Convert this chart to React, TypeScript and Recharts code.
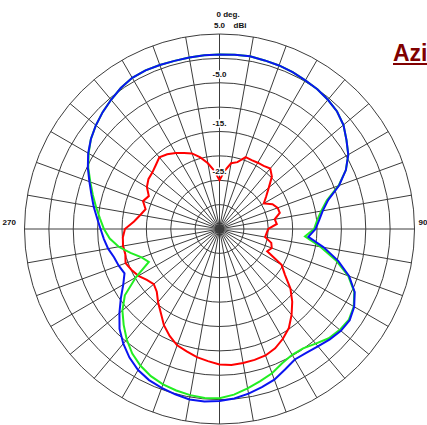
import React from 'react';
import { RadarChart, Radar, PolarGrid, PolarAngleAxis, PolarRadiusAxis } from 'recharts';

// Azimuth angle (deg, clockwise from top)
const angles = [
  0, 5, 10, 15, 20, 25, 30, 35, 40, 45, 50, 55, 60, 65, 70, 75, 80, 85,
  90, 95, 100, 105, 110, 115, 120, 125, 130, 135, 140, 145, 150, 155, 160, 165, 170, 175,
  180, 185, 190, 195, 200, 205, 210, 215, 220, 225, 230, 235, 240, 245, 250, 255, 260, 265,
  270, 275, 280, 285, 290, 295, 300, 305, 310, 315, 320, 325, 330, 335, 340, 345, 350, 355,
];

// Gain in dBi
const blueGain = [
  0.8, 0.9, 1.0, 0.8, 0.7, 0.5, 0.2, 0.0, -0.4, -0.9, -1.8, -3.2, -4.5, -6.4, -8.9, -11.9, -13.5, -14.5,
  -15.3, -16.7, -13.3, -9.8, -6.7, -4.4, -3.1, -2.4, -2.5, -3.0, -3.6, -4.0, -4.1, -3.2, -2.1, -1.4, -0.7, -0.1,
  0.3, 0.5, 0.5, 0.1, -0.3, -0.8, -1.6, -2.8, -4.3, -6.0, -8.2, -10.3, -12.2, -13.5, -13.0, -12.6, -11.8, -11.2,
  -10.6, -9.8, -8.8, -7.8, -6.6, -5.2, -3.9, -2.8, -1.9, -1.1, -0.4, 0.3, 0.8, 0.9, 0.8, 0.7, 0.7, 0.8,
];

const greenGain = [
  0.8, 0.9, 1.0, 0.8, 0.7, 0.5, 0.2, 0.0, -0.4, -0.9, -1.8, -3.2, -4.5, -6.4, -9.0, -12.2, -13.8, -14.9,
  -15.6, -17.4, -14.0, -10.3, -6.9, -4.5, -3.2, -2.6, -2.8, -3.3, -4.3, -5.1, -5.2, -4.6, -3.5, -2.7, -1.8, -0.9,
  -0.3, -0.2, -0.4, -0.7, -1.1, -1.7, -2.6, -3.8, -5.4, -7.2, -9.0, -11.3, -15.2, -19.0, -18.0, -16.1, -14.0, -12.4,
  -11.3, -10.4, -9.3, -8.1, -6.8, -5.3, -4.0, -2.8, -1.9, -1.1, -0.4, 0.3, 0.8, 0.9, 0.8, 0.7, 0.7, 0.8,
];

const redGain = [
  -25.0, -23.0, -21.3, -20.8, -19.3, -19.4, -19.3, -19.2, -18.8, -19.8, -21.8, -23.3, -24.5, -23.0, -22.3, -22.2, -23.5, -23.2,
  -25.0, -25.3, -25.5, -24.0, -23.6, -24.2, -20.3, -18.6, -16.0, -13.9, -12.0, -10.2, -9.0, -8.0, -7.4, -7.2, -7.1, -7.0,
  -7.2, -7.8, -8.3, -9.0, -9.6, -10.8, -12.2, -14.0, -15.4, -16.8, -17.4, -16.8, -15.8, -15.1, -14.5, -15.0, -14.9, -15.1,
  -15.6, -17.4, -18.5, -19.3, -18.3, -19.0, -17.8, -17.2, -17.0, -16.5, -15.8, -16.3, -17.0, -17.8, -18.5, -19.8, -21.3, -23.0,
];

const ringTicks = [-25, -15, -5, 5];
const ringTickText: Record<string, string> = { '5': '5.0', '-5': '-5.0', '-15': '-15.', '-25': '-25.' };
const cardinalText: Record<string, string> = { '0': '0 deg.', '90': '90', '180': '180', '270': '270' };

const data = angles.map((a, i) => ({ angle: a, blue: blueGain[i], green: greenGain[i], red: redGain[i] }));

const CX = 219.5;
const CY = 229;
const R = 195;
const ringRadii = [4, ...Array.from({ length: 8 }, (_, i) => ((i + 1) * R) / 8)];
const spokes = Array.from({ length: 36 }, (_, i) => i * 10);

const FONT = "'Liberation Sans', Arial, sans-serif";

const RadiusTick = (props: any) => {
  const { x, y, payload } = props;
  const key = String(payload.value);
  const label = ringTickText[key];
  if (!label) return null;
  return (
    <g>
      <text
        x={x}
        y={y - 6}
        textAnchor="middle"
        fontSize={8}
        fontWeight="bold"
        fontFamily={FONT}
        fill="#111"
        stroke="#fff"
        strokeWidth={3}
        style={{ paintOrder: 'stroke' }}
      >
        {label}
      </text>
      {key === '5' && (
        <text x={x + 14} y={y - 6} textAnchor="start" fontSize={8} fontWeight="bold" fontFamily={FONT} fill="#111">
          dBi
        </text>
      )}
    </g>
  );
};

const AngleTick = (props: any) => {
  const { payload } = props;
  const key = String(payload.value);
  const label = cardinalText[key];
  if (!label) return null;
  let x = CX;
  let y = CY;
  let anchor: 'start' | 'middle' | 'end' = 'middle';
  if (key === '0') {
    x = CX - 3;
    y = CY - R - 17;
    anchor = 'start';
  } else if (key === '90') {
    x = CX + R + 4;
    y = CY - 4;
    anchor = 'start';
  } else if (key === '180') {
    x = CX;
    y = CY + R + 7;
  } else if (key === '270') {
    x = CX - R - 22;
    y = CY - 4;
    anchor = 'start';
  }
  return (
    <text x={x} y={y} textAnchor={anchor} fontSize={8} fontWeight="bold" fontFamily={FONT} fill="#111">
      {label}
    </text>
  );
};

export default function App() {
  return (
    <div
      style={{
        position: 'absolute',
        left: 0,
        top: 0,
        width: 427,
        height: 425,
        overflow: 'hidden',
        background: '#fff',
      }}
    >
      <RadarChart
        width={427}
        height={425}
        cx={CX}
        cy={CY}
        innerRadius={0}
        outerRadius={R}
        startAngle={90}
        endAngle={-270}
        margin={{ top: 0, right: 0, bottom: 0, left: 0 }}
        data={data}
      >
        <PolarGrid
          gridType="circle"
          polarRadius={ringRadii}
          polarAngles={spokes}
          stroke="#3c3c3c"
          strokeWidth={1}
        />
        <PolarAngleAxis
          dataKey="angle"
          type="category"
          axisLine={false}
          tickLine={false}
          tick={<AngleTick />}
        />
        <PolarRadiusAxis
          type="number"
          angle={90}
          domain={[-35, 5]}
          ticks={ringTicks}
          axisLine={false}
          tickLine={false}
          tick={<RadiusTick />}
        />
        <Radar dataKey="red" stroke="#ff0000" strokeWidth={2} fill="none" fillOpacity={0} dot={false} isAnimationActive={false} />
        <Radar dataKey="green" stroke="#22ee22" strokeWidth={2} fill="none" fillOpacity={0} dot={false} isAnimationActive={false} />
        <Radar dataKey="blue" stroke="#0a14f0" strokeWidth={2} fill="none" fillOpacity={0} dot={false} isAnimationActive={false} />
      </RadarChart>
      <div
        style={{
          position: 'absolute',
          left: 393,
          top: 41,
          fontFamily: FONT,
          fontSize: 23,
          lineHeight: '24px',
          fontWeight: 'bold',
          color: '#800000',
          textDecoration: 'underline',
          whiteSpace: 'nowrap',
        }}
      >
        Azimuth
      </div>
    </div>
  );
}
